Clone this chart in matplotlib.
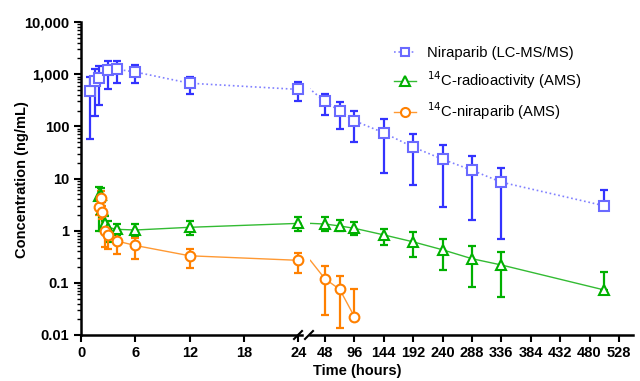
import matplotlib
matplotlib.use('Agg')
from matplotlib import pyplot as plt
from matplotlib.ticker import LogLocator, NullFormatter, FixedFormatter, FixedLocator
import numpy as np

plt.rcParams['font.family'] = ['Liberation Sans', 'DejaVu Sans']

# Niraparib (LC-MS/MS): time (h), mean, upper and lower error ends (ng/mL)
nir_t = [1, 1.5, 2, 3, 4, 6, 12, 24, 48, 72, 96, 144, 192, 240, 288, 336, 504]
nir_y = [480, 750, 830, 1200, 1240, 1100, 670, 510, 300, 197, 128, 75, 40, 23.4, 14.4, 8.5, 3.0]
nir_hi = [895, 1270, 1435, 1810, 1770, 1520, 895, 718, 417, 297, 200, 138, 71, 44.5, 27, 16.1, 6.0]
nir_lo = [56, 158, 260, 527, 668, 668, 417, 310, 163, 90, 50, 12.8, 7.5, 2.8, 1.6, 0.68, 3.0]

# 14C-radioactivity (AMS)
rad_t = [2.0, 2.17, 2.33, 2.67, 3, 4, 6, 12, 24, 48, 72, 96, 144, 192, 240, 288, 336, 504]
rad_y = [4.6, 4.9, 2.6, 1.4, 1.15, 1.06, 1.03, 1.16, 1.38, 1.34, 1.23, 1.11, 0.83, 0.61, 0.43, 0.29, 0.22, 0.073]
rad_hi = [6.8, 6.5, 3.5, 1.9, 1.5, 1.32, 1.33, 1.53, 1.85, 1.8, 1.6, 1.46, 1.08, 0.96, 0.69, 0.515, 0.395, 0.164]
rad_lo = [1.0, 3.5, 1.0, 0.95, 0.6, 0.83, 0.8, 0.81, 0.97, 0.97, 0.97, 0.83, 0.52, 0.31, 0.179, 0.084, 0.054, 0.073]

# 14C-niraparib (AMS)
c14_t = [2.0, 2.17, 2.33, 2.67, 3, 4, 6, 12, 24, 48, 72, 96]
c14_y = [2.9, 4.2, 2.3, 1.0, 0.82, 0.63, 0.52, 0.33, 0.27, 0.119, 0.075, 0.0225]
c14_hi = [4.0, 5.8, 3.0, 1.4, 1.1, 0.89, 0.71, 0.44, 0.38, 0.21, 0.135, 0.076]
c14_lo = [2.0, 3.0, 1.7, 0.48, 0.44, 0.35, 0.29, 0.195, 0.156, 0.024, 0.0138, 0.0225]

left_ticks = [0, 6, 12, 18, 24]
right_ticks = [48, 96, 144, 192, 240, 288, 336, 384, 432, 480, 528]
y_ticks = [0.01, 0.1, 1, 10, 100, 1000, 10000]
y_labels = ['0.01', '0.1', '1', '10', '100', '1,000', '10,000']

series = [
    dict(t=nir_t, y=nir_y, hi=nir_hi, lo=nir_lo, marker='s', ms=6.5, ls=':', lw=1.2,
         line='#8080ff', edge='#6a6aff', err='#3333ff',
         label='Niraparib (LC-MS/MS)'),
    dict(t=rad_t, y=rad_y, hi=rad_hi, lo=rad_lo, marker='^', ms=7, ls='-', lw=1.0,
         line='#33bb33', edge='#00b000', err='#00b000',
         label='$^{14}$C-radioactivity (AMS)'),
    dict(t=c14_t, y=c14_y, hi=c14_hi, lo=c14_lo, marker='o', ms=7, ls='-', lw=1.0,
         line='#ff9933', edge='#ff8000', err='#ff8000',
         label='$^{14}$C-niraparib (AMS)'),
]

fig = plt.figure(figsize=(6.4, 3.81), dpi=100)
bottom, height = 46 / 381, 313 / 381
ax1 = fig.add_axes([81 / 640, bottom, 221 / 640, height])
ax2 = fig.add_axes([310 / 640, bottom, 323 / 640, height])

# (axes, x limits, range of times whose markers belong to this panel)
panels = [(ax1, (0, 24.4), (0, 24)), (ax2, (23.5, 551), (48, 600))]
for ax, (x0, x1), (t0, t1) in panels:
    for s in series:
        t = np.array(s['t'], dtype=float)
        y = np.array(s['y'])
        hi = np.array(s['hi'])
        lo = np.array(s['lo'])
        ax.plot(t, y, ls=s['ls'], lw=s['lw'], color=s['line'], zorder=2)
        m = (t >= t0) & (t <= t1)
        ax.errorbar(t[m], y[m], yerr=[y[m] - lo[m], hi[m] - y[m]], fmt='none',
                    ecolor=s['err'], elinewidth=1.6, capsize=3, capthick=1.6,
                    zorder=3, clip_on=False)
        ax.plot(t[m], y[m], ls='none', marker=s['marker'], ms=s['ms'], mfc='white',
                mec=s['edge'], mew=1.5, zorder=4, clip_on=False)
    ax.set_xlim(x0, x1)
    ax.set_yscale('log')
    ax.set_ylim(0.01, 10000)
    ax.spines['top'].set_visible(False)
    ax.spines['right'].set_visible(False)
    ax.spines['bottom'].set_linewidth(1.8)
    ax.spines['left'].set_linewidth(1.8)
    ax.tick_params(axis='x', width=1.5, length=5, labelsize=10.5, pad=3)

ax1.set_xticks(left_ticks)
ax1.set_xticklabels([str(v) for v in left_ticks], fontweight='bold')
ax2.set_xticks(right_ticks)
ax2.set_xticklabels([str(v) for v in right_ticks], fontweight='bold')

ax1.yaxis.set_major_locator(FixedLocator(y_ticks))
ax1.yaxis.set_major_formatter(FixedFormatter(y_labels))
ax1.yaxis.set_minor_locator(LogLocator(base=10, subs=np.arange(2, 10)))
ax1.yaxis.set_minor_formatter(NullFormatter())
ax1.tick_params(axis='y', which='major', width=1.5, length=5, labelsize=10.5)
ax1.tick_params(axis='y', which='minor', width=1.0, length=3)
for lab in ax1.get_yticklabels():
    lab.set_fontweight('bold')

ax2.spines['left'].set_visible(False)
ax2.tick_params(axis='y', which='both', left=False, labelleft=False)

# break marks on the x axis
for x in (294, 305):
    fig.add_artist(plt.Line2D([x / 640, (x + 8) / 640], [(381 - 339) / 381, (381 - 331) / 381],
                              color='black', lw=1.5))

# legend
handles = []
for s in series:
    handles.append(plt.Line2D([], [], ls=s['ls'], lw=s['lw'], color=s['line'],
                              marker=s['marker'], ms=s['ms'] - 0.5, mfc='white',
                              mec=s['edge'], mew=1.5))
ax2.legend(handles, [s['label'] for s in series], loc='upper left',
           bbox_to_anchor=(0.22, 0.965), frameon=False, fontsize=10.6,
           handlelength=1.5, labelspacing=0.62, handletextpad=0.75)

fig.text(357 / 640, 10 / 381, 'Time (hours)', ha='center', va='center',
         fontsize=10.5, fontweight='bold')
fig.text(22 / 640, 1 - 180 / 381, 'Concentration (ng/mL)', ha='center', va='center',
         rotation=90, fontsize=10.5, fontweight='bold')

fig.savefig('out.png', dpi=100)
